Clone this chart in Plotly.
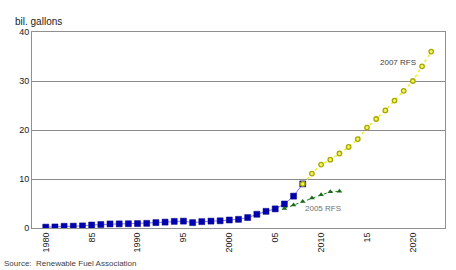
import plotly.graph_objects as go

years_actual = list(range(1980, 2009))
production = [0.175, 0.215, 0.35, 0.375, 0.43, 0.61, 0.71, 0.83, 0.845, 0.87,
              0.9, 0.95, 1.1, 1.2, 1.35, 1.4, 1.1, 1.3, 1.4, 1.47,
              1.63, 1.77, 2.13, 2.8, 3.4, 3.9, 4.9, 6.5, 9.0]

years_rfs2005 = list(range(2006, 2013))
rfs2005 = [4.0, 4.7, 5.4, 6.1, 6.8, 7.4, 7.5]

years_rfs2007 = list(range(2008, 2023))
rfs2007 = [9.0, 11.1, 12.95, 13.95, 15.2, 16.55, 18.15, 20.5, 22.25, 24.0,
           26.0, 28.0, 30.0, 33.0, 36.0]

tick_vals = [1980, 1985, 1990, 1995, 2000, 2005, 2010, 2015, 2020]
tick_text = ["1980", "85", "1990", "95", "2000", "05", "2010", "15", "2020"]

font = "Liberation Sans, Arial, sans-serif"

fig = go.Figure()
fig.add_trace(go.Scatter(
    x=years_actual, y=production, mode="lines+markers",
    line=dict(color="#8080ff", width=1),
    marker=dict(symbol="square", size=6, color="#0000b0",
                line=dict(color="#000080", width=0.5)),
    showlegend=False))
fig.add_trace(go.Scatter(
    x=years_rfs2005, y=rfs2005, mode="lines+markers",
    line=dict(color="#208020", width=1, dash="dot"),
    marker=dict(symbol="triangle-up", size=5, color="#1a6a1a"),
    showlegend=False))
fig.add_trace(go.Scatter(
    x=years_rfs2007, y=rfs2007, mode="lines+markers",
    line=dict(color="#f0f020", width=1.5, dash="dot"),
    marker=dict(symbol="circle", size=4.5, color="#f4f460",
                line=dict(color="#a8a800", width=1.3)),
    showlegend=False))

fig.add_annotation(x=2018.4, y=33.8, text="2007 RFS", showarrow=False,
                   font=dict(family=font, size=8, color="#404040"))
fig.add_annotation(x=2010.2, y=4.0, text="2005 RFS", showarrow=False,
                   font=dict(family=font, size=8, color="#707070"))
fig.add_annotation(x=0, y=1, xref="paper", yref="paper",
                   xanchor="left", yanchor="bottom", xshift=-19, yshift=3,
                   text="bil. gallons", showarrow=False,
                   font=dict(family=font, size=10, color="#202020"))
fig.add_annotation(x=0, y=0, xref="paper", yref="paper",
                   xanchor="left", yanchor="bottom", xshift=-30, yshift=-42,
                   text="Source:  Renewable Fuel Association", showarrow=False,
                   font=dict(family=font, size=8, color="#404040"))

fig.update_xaxes(range=[1978.5, 2023.5], tickvals=tick_vals, ticktext=tick_text,
                 tickangle=-90, showgrid=False, zeroline=False,
                 showline=True, linecolor="#909090", linewidth=1, mirror=True,
                 tickfont=dict(family=font, size=9, color="#202020"), ticks="")
fig.update_yaxes(range=[0, 40], tickvals=[0, 10, 20, 30, 40],
                 showgrid=True, gridcolor="#8a8a8a", gridwidth=1, zeroline=False,
                 showline=True, linecolor="#909090", linewidth=1, mirror=True,
                 tickfont=dict(family=font, size=9, color="#202020"), ticks="")

fig.update_layout(width=456, height=270, margin=dict(l=32, r=11, t=32, b=42),
                  plot_bgcolor="white", paper_bgcolor="white")

fig.write_html("out.html")
